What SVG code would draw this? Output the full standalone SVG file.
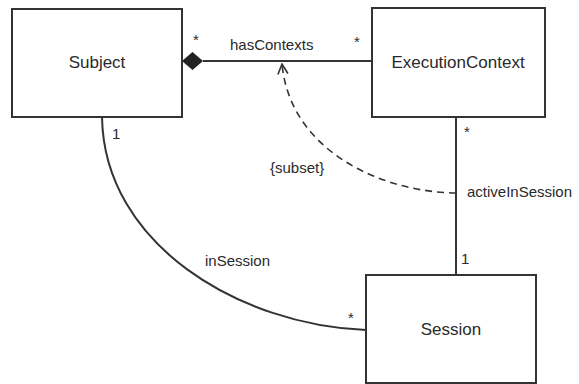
<svg xmlns="http://www.w3.org/2000/svg" width="579" height="384" viewBox="0 0 579 384">
  <style>
    .box { fill: #ffffff; stroke: #333333; stroke-width: 2; }
    .name { font-family: "Liberation Sans", Arial, sans-serif; font-size: 17px; fill: #2a2a2a; text-anchor: middle; }
    .lbl { font-family: "Liberation Sans", Arial, sans-serif; font-size: 15px; fill: #2a2a2a; }
    .line { fill: none; stroke: #333333; stroke-width: 2; }
    .dash { fill: none; stroke: #333333; stroke-width: 1.6; stroke-dasharray: 7 5; }
  </style>
  <defs>
    <marker id="open-arrow" viewBox="0 0 12 12" refX="11" refY="6" markerWidth="12" markerHeight="12" markerUnits="userSpaceOnUse" orient="auto">
      <path d="M1,1 L11,6 L1,11" fill="none" stroke="#333333" stroke-width="1.6"/>
    </marker>
  </defs>
  <rect width="579" height="384" fill="#ffffff"/>

  <g id="connectors">
    <!-- hasContexts (composition) -->
    <line class="line" x1="203" y1="61" x2="372" y2="61"/>
    <polygon points="182,61 192.5,52 203,61 192.5,70" fill="#222222"/>
    <!-- activeInSession -->
    <line class="line" x1="456" y1="117" x2="456" y2="275"/>
    <!-- inSession -->
    <path class="line" d="M102,117 C104,245 240,325 366,330"/>
    <!-- subset constraint -->
    <path class="dash" d="M456,193 C380,192 290,150 282,64" marker-end="url(#open-arrow)"/>
    <text class="lbl" x="230" y="50">hasContexts</text>
    <text class="lbl" x="193" y="45">*</text>
    <text class="lbl" x="354" y="47">*</text>
    <text class="lbl" x="270" y="173">{subset}</text>
    <text class="lbl" x="467" y="197">activeInSession</text>
    <text class="lbl" x="464" y="137">*</text>
    <text class="lbl" x="461" y="264">1</text>
    <text class="lbl" x="112" y="139">1</text>
    <text class="lbl" x="205" y="266">inSession</text>
    <text class="lbl" x="348" y="323">*</text>
  </g>

  <g id="subject">
    <rect class="box" x="12" y="9" width="170" height="108"/>
    <text class="name" x="97" y="68">Subject</text>
  </g>

  <g id="execution-context">
    <rect class="box" x="372" y="8" width="173" height="109"/>
    <text class="name" x="458" y="68">ExecutionContext</text>
  </g>

  <g id="session">
    <rect class="box" x="366" y="275" width="170" height="108"/>
    <text class="name" x="451" y="335">Session</text>
  </g>
</svg>
